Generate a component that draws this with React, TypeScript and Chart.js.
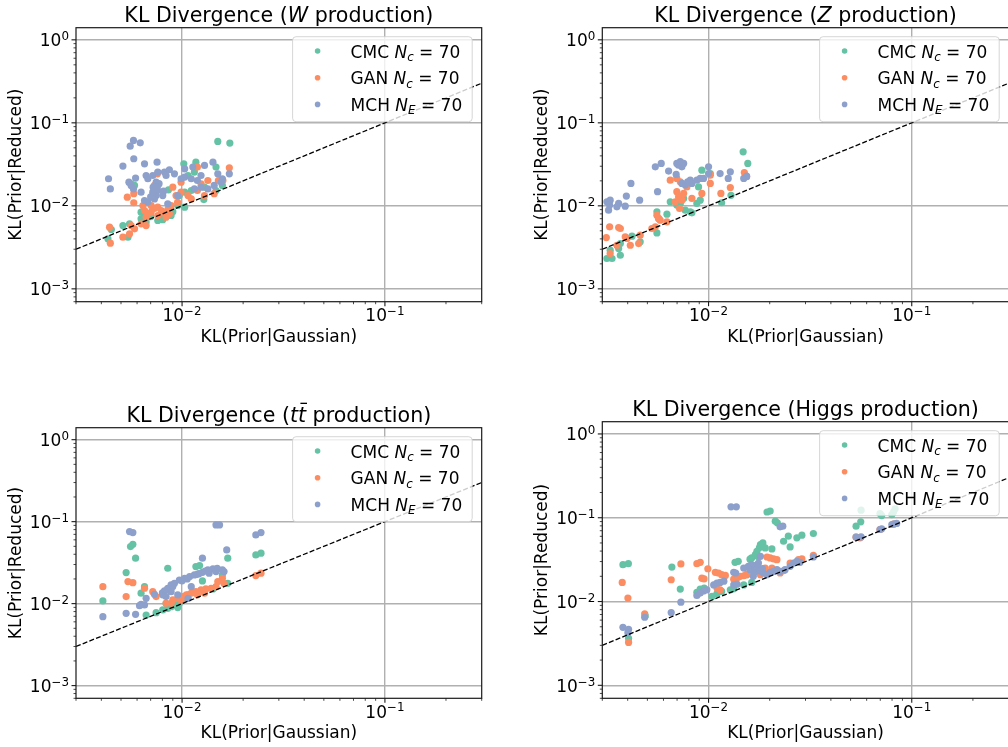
import React, { useEffect, useRef } from "react";
import { Chart, registerables } from "chart.js";

Chart.register(...registerables);

const FONT = "'DejaVu Sans', 'Noto Sans', sans-serif";

// ---- axes ----
const xRange = [0.003, 0.3];
const yRange = [0.0007, 1.4];
const diagonal = [0.003, 0.3];
const xMajorTicks = [0.01, 0.1];
const xTickExponents = ["\u22122", "\u22121"];
const yMajorTicks = [0.001, 0.01, 0.1, 1];
const yTickExponents = ["\u22123", "\u22122", "\u22121", "0"];
const xAxisLabel = "KL(Prior|Gaussian)";
const yAxisLabel = "KL(Prior|Reduced)";
const seriesColors = ["#66c2a5", "#fc8d62", "#8da0cb"];

// ---- W production ----
const wCmc: number[][] = [
  [0.015, 0.0597], [0.0172, 0.057], [0.0102, 0.0321], [0.0117, 0.0336], [0.0147, 0.0293], [0.0107, 0.0232],
  [0.00857, 0.0156], [0.0115, 0.0255], [0.0129, 0.0168], [0.0128, 0.0119], [0.0147, 0.0153], [0.0158, 0.0176],
  [0.00561, 0.0184], [0.00583, 0.0176], [0.00628, 0.00839], [0.00653, 0.00765], [0.00774, 0.00697], [0.00819, 0.00765],
  [0.00952, 0.0101], [0.0103, 0.00964], [0.00551, 0.00607], [0.00511, 0.00579], [0.00541, 0.00419], [0.00431, 0.004],
  [0.00448, 0.00519], [0.00628, 0.00697], [0.00691, 0.00801], [0.00759, 0.00666], [0.0085, 0.00839], [0.0111, 0.0153],
  [0.0097, 0.0133], [0.0103, 0.0146], [0.00803, 0.0068], [0.00883, 0.00765], [0.00665, 0.0064],
  [0.007, 0.0074], [0.008, 0.0072], [0.009, 0.0085],
];
const wGan: number[][] = [
  [0.00756, 0.0243], [0.0119, 0.0293], [0.0171, 0.0287], [0.0151, 0.0202], [0.0159, 0.0202], [0.0134, 0.0202],
  [0.0124, 0.0184], [0.00989, 0.0193], [0.00731, 0.0176], [0.009, 0.0168], [0.00934, 0.0133], [0.00989, 0.0146],
  [0.0107, 0.0133], [0.0111, 0.0121], [0.0119, 0.0153], [0.0129, 0.0133], [0.0144, 0.014], [0.00537, 0.0127],
  [0.00578, 0.014], [0.00578, 0.0109], [0.00641, 0.0101], [0.00653, 0.00878], [0.00678, 0.00801], [0.00704, 0.00839],
  [0.00759, 0.00765], [0.00789, 0.00878], [0.00834, 0.0073], [0.00866, 0.00801], [0.00883, 0.0101], [0.00759, 0.00964],
  [0.00665, 0.0073], [0.00628, 0.00607], [0.00665, 0.00579], [0.00583, 0.00528], [0.00551, 0.0046], [0.00511, 0.00419],
  [0.00439, 0.00553], [0.00443, 0.00355], [0.00561, 0.00579], [0.00704, 0.0101],
  [0.008, 0.0083], [0.0073, 0.0093], [0.0095, 0.011], [0.0085, 0.009],
];
const wMch: number[][] = [
  [0.00576, 0.0614], [0.00555, 0.0524], [0.00622, 0.0575], [0.00578, 0.0369], [0.00511, 0.0301], [0.00653, 0.0321],
  [0.00753, 0.0336], [0.00434, 0.0212], [0.00443, 0.016], [0.00547, 0.0193], [0.0059, 0.0216], [0.00665, 0.0232],
  [0.00678, 0.0212], [0.00717, 0.0232], [0.00759, 0.0255], [0.00819, 0.0255], [0.00866, 0.0272], [0.00834, 0.0232],
  [0.00917, 0.0243], [0.00989, 0.0212], [0.0103, 0.0222], [0.0111, 0.0212], [0.0119, 0.0202], [0.0124, 0.0232],
  [0.0129, 0.0307], [0.0142, 0.0336], [0.015, 0.0243], [0.0158, 0.0212], [0.0171, 0.0243], [0.00745, 0.0193],
  [0.00759, 0.0176], [0.00759, 0.0153], [0.00745, 0.0133], [0.00628, 0.0146], [0.00653, 0.0116], [0.00678, 0.0111],
  [0.00717, 0.0146], [0.00731, 0.0121], [0.00803, 0.0133], [0.0085, 0.0106], [0.00952, 0.0133], [0.0103, 0.0279],
  [0.0113, 0.0293], [0.0115, 0.016], [0.0124, 0.0168], [0.0134, 0.016], [0.0144, 0.0176], [0.0156, 0.0193],
  [0.00561, 0.0176], [0.00576, 0.016], [0.0072, 0.0168], [0.0077, 0.0185], [0.0081, 0.015], [0.007, 0.0128],
];

// ---- Z production ----
const zCmc: number[][] = [
  [0.0148, 0.0448], [0.0156, 0.0324], [0.00927, 0.0269], [0.0102, 0.0245], [0.00893, 0.0169], [0.00648, 0.0112],
  [0.00698, 0.0102], [0.00768, 0.00887], [0.00813, 0.00847], [0.00828, 0.00824], [0.00876, 0.0107], [0.0091, 0.0117],
  [0.0116, 0.0109], [0.0129, 0.0134], [0.00557, 0.00847], [0.00568, 0.00703], [0.00624, 0.00793], [0.00557, 0.00472],
  [0.00461, 0.00368], [0.0042, 0.00431], [0.00368, 0.00351], [0.00361, 0.00306], [0.00328, 0.00292], [0.00316, 0.00232],
  [0.00335, 0.00232], [0.00368, 0.00254], [0.00754, 0.0123], [0.00726, 0.0107],
];
const zGan: number[][] = [
  [0.00648, 0.0204], [0.00698, 0.0214], [0.00726, 0.0195], [0.00782, 0.0169], [0.00754, 0.0141], [0.00712, 0.0128],
  [0.00739, 0.0117], [0.0072, 0.00929], [0.00698, 0.0148], [0.00686, 0.0112], [0.00557, 0.00772], [0.00578, 0.00672],
  [0.00568, 0.00703], [0.00624, 0.00641], [0.00547, 0.00558], [0.00526, 0.00533], [0.00326, 0.00558], [0.00361, 0.00548],
  [0.00368, 0.00533], [0.00314, 0.00415], [0.00389, 0.00423], [0.00397, 0.00404], [0.00412, 0.00335], [0.00354, 0.00335],
  [0.00328, 0.00266], [0.00461, 0.00443], [0.0102, 0.0234], [0.0102, 0.0186], [0.00927, 0.0141], [0.0115, 0.0141],
  [0.0128, 0.0166], [0.015, 0.0252], [0.0154, 0.0224], [0.00828, 0.0123], [0.00453, 0.00351],
];
const zMch: number[][] = [
  [0.00698, 0.0324], [0.00726, 0.034], [0.00754, 0.0324], [0.00712, 0.0309], [0.00739, 0.0295], [0.00547, 0.0295],
  [0.00585, 0.0324], [0.00636, 0.0262], [0.00693, 0.0239], [0.00561, 0.0148], [0.00415, 0.0186], [0.00394, 0.0131],
  [0.00458, 0.0117], [0.00326, 0.0102], [0.00316, 0.0112], [0.00328, 0.0117], [0.00361, 0.0107], [0.00389, 0.00991],
  [0.00322, 0.00887], [0.00354, 0.00973], [0.00789, 0.0195], [0.00828, 0.0186], [0.00876, 0.0204], [0.00768, 0.0178],
  [0.00813, 0.0204], [0.0091, 0.0214], [0.01, 0.0295], [0.01, 0.0245], [0.0114, 0.0245], [0.0128, 0.0257],
  [0.0149, 0.0214], [0.0154, 0.0228], [0.0125, 0.0214], [0.00739, 0.0186], [0.00945, 0.0214],
];

// ---- ttbar production ----
const ttCmc: number[][] = [
  [0.0053, 0.0239], [0.00557, 0.0497], [0.00572, 0.053], [0.0059, 0.0358], [0.00407, 0.0108], [0.00628, 0.0134],
  [0.00665, 0.00727], [0.00745, 0.00776], [0.00803, 0.00837], [0.0085, 0.00877], [0.00883, 0.00919], [0.00952, 0.00894],
  [0.0097, 0.0101], [0.00834, 0.0101], [0.0117, 0.0283], [0.0122, 0.0291], [0.0085, 0.027], [0.0126, 0.0189],
  [0.0142, 0.0151], [0.0158, 0.0224], [0.0168, 0.0177], [0.0168, 0.0358], [0.0231, 0.0393], [0.0245, 0.0412],
  [0.0107, 0.0128], [0.0103, 0.0116], [0.00917, 0.00963], [0.00653, 0.0161],
];
const ttGan: number[][] = [
  [0.00407, 0.0161], [0.0053, 0.0122], [0.00541, 0.0186], [0.00572, 0.018], [0.00653, 0.0154], [0.00717, 0.014],
  [0.00745, 0.0122], [0.00883, 0.0101], [0.009, 0.0111], [0.00952, 0.0116], [0.0101, 0.0122], [0.0105, 0.0128],
  [0.0111, 0.0134], [0.0117, 0.014], [0.0124, 0.0147], [0.0131, 0.0151], [0.0139, 0.0154], [0.0147, 0.0161],
  [0.015, 0.0186], [0.0158, 0.0204], [0.0161, 0.0177], [0.0231, 0.022], [0.0245, 0.0235], [0.00989, 0.0111],
  [0.0107, 0.0116], [0.0119, 0.0128], [0.0129, 0.0134], [0.00834, 0.0101],
];
const ttMch: number[][] = [
  [0.00551, 0.0757], [0.00572, 0.0736], [0.0147, 0.0913], [0.0153, 0.0913], [0.0231, 0.0689], [0.0245, 0.0736],
  [0.0166, 0.0452], [0.0126, 0.0358], [0.0053, 0.00762], [0.0059, 0.00741], [0.00407, 0.00694], [0.00653, 0.00963],
  [0.00628, 0.00982], [0.00617, 0.00945], [0.00665, 0.0116], [0.00731, 0.013], [0.00819, 0.0143], [0.0085, 0.0154],
  [0.00883, 0.0169], [0.00917, 0.0177], [0.0097, 0.0194], [0.0103, 0.0204], [0.0109, 0.0214], [0.0115, 0.0224],
  [0.0119, 0.0228], [0.0126, 0.0241], [0.0134, 0.0258], [0.0142, 0.0265], [0.0149, 0.027], [0.0158, 0.0258],
  [0.0161, 0.0246], [0.0111, 0.0161], [0.00952, 0.0128], [0.00803, 0.0128], [0.00834, 0.0122], [0.0107, 0.0116],
  [0.00883, 0.014], [0.0136, 0.0235], [0.0147, 0.0246], [0.0085, 0.0148], [0.009, 0.0162], [0.01, 0.019],
  [0.0106, 0.02], [0.0121, 0.0232], [0.013, 0.025], [0.008, 0.0135],
];

// ---- Higgs production ----
const hCmc: number[][] = [
  [0.00379, 0.0275], [0.00403, 0.0283], [0.0066, 0.0258], [0.00726, 0.0141], [0.00876, 0.0129], [0.0091, 0.0141],
  [0.00952, 0.0145], [0.0104, 0.0115], [0.011, 0.0124], [0.0116, 0.0132], [0.0128, 0.0138], [0.0133, 0.0142],
  [0.0135, 0.0294], [0.014, 0.0302], [0.0149, 0.0158], [0.0163, 0.0169], [0.0163, 0.0331], [0.017, 0.0363],
  [0.0173, 0.0398], [0.018, 0.0478], [0.0185, 0.05], [0.019, 0.0436], [0.0205, 0.0424], [0.0234, 0.0524],
  [0.0247, 0.0602], [0.0252, 0.0448], [0.0272, 0.0575], [0.0288, 0.0619], [0.0201, 0.12], [0.0194, 0.117],
  [0.0213, 0.091], [0.0218, 0.0869], [0.0328, 0.0648], [0.0532, 0.0793], [0.0561, 0.0893], [0.0563, 0.123],
  [0.0698, 0.112], [0.0711, 0.106], [0.0798, 0.109], [0.0813, 0.117], [0.0828, 0.128], [0.00404, 0.00363],
  [0.00488, 0.00673], [0.0166, 0.0229], [0.0154, 0.0209], [0.0175, 0.0345], [0.0178, 0.044], [0.016, 0.032],
];
const hGan: number[][] = [
  [0.00376, 0.0169], [0.00401, 0.011], [0.00404, 0.00325], [0.00485, 0.00711], [0.00655, 0.0182], [0.00731, 0.0281],
  [0.00876, 0.0283], [0.0091, 0.0294], [0.00927, 0.019], [0.0095, 0.0186], [0.00992, 0.0246], [0.0108, 0.0223],
  [0.0112, 0.0219], [0.0116, 0.0209], [0.0121, 0.0205], [0.011, 0.0145], [0.0114, 0.0138], [0.0133, 0.0185],
  [0.0139, 0.0194], [0.0143, 0.02], [0.0149, 0.0203], [0.0154, 0.0209], [0.016, 0.0229], [0.0166, 0.0233],
  [0.0194, 0.034], [0.0201, 0.0331], [0.0209, 0.0322], [0.0217, 0.0316], [0.018, 0.0209], [0.019, 0.0251],
  [0.0205, 0.0251], [0.0225, 0.0219], [0.0234, 0.0233], [0.0252, 0.0288], [0.0277, 0.0316], [0.0288, 0.0322],
  [0.0328, 0.0356], [0.0532, 0.059], [0.0556, 0.0575], [0.0698, 0.0724], [0.0813, 0.0838],
];
const hMch: number[][] = [
  [0.00379, 0.00492], [0.00404, 0.00466], [0.00401, 0.00425], [0.00485, 0.00649], [0.00655, 0.00738], [0.00731, 0.00982],
  [0.00876, 0.0118], [0.0091, 0.0126], [0.00945, 0.0134], [0.00981, 0.0138], [0.0106, 0.0158], [0.011, 0.0166],
  [0.0114, 0.0169], [0.0119, 0.0175], [0.0133, 0.0223], [0.0136, 0.0219], [0.0133, 0.0158], [0.0138, 0.0161],
  [0.0129, 0.135], [0.0137, 0.135], [0.0149, 0.0251], [0.0157, 0.0263], [0.0163, 0.0275], [0.017, 0.0268],
  [0.0176, 0.0288], [0.018, 0.024], [0.0186, 0.0219], [0.0194, 0.0209], [0.0201, 0.0223], [0.0209, 0.0229],
  [0.0217, 0.024], [0.0225, 0.0229], [0.0238, 0.024], [0.0252, 0.0263], [0.0262, 0.0288], [0.0272, 0.0302],
  [0.0282, 0.0294], [0.0225, 0.0778], [0.0232, 0.0793], [0.018, 0.0346], [0.017, 0.024], [0.0166, 0.02],
  [0.016, 0.0263], [0.0328, 0.034], [0.0532, 0.0585], [0.0563, 0.059], [0.0698, 0.0724], [0.0711, 0.0738],
  [0.0798, 0.083], [0.082, 0.0846], [0.0843, 0.0855], [0.0172, 0.0255], [0.0178, 0.0232], [0.0168, 0.0222],
  [0.0184, 0.0248], [0.016, 0.024],
];

type Seg = { t: string; it?: boolean; sub?: boolean; sup?: boolean; bar?: boolean };

const seriesLabels: Seg[][] = [
  [{ t: "CMC " }, { t: "N", it: true }, { t: "c", it: true, sub: true }, { t: " = 70" }],
  [{ t: "GAN " }, { t: "N", it: true }, { t: "c", it: true, sub: true }, { t: " = 70" }],
  [{ t: "MCH " }, { t: "N", it: true }, { t: "E", it: true, sub: true }, { t: " = 70" }],
];

const CW = 1020;
const CH = 747;

type Panel = { title: Seg[]; box: { l: number; t: number; r: number; b: number }; series: number[][][] };

const panels: Panel[] = [
  {
    title: [{ t: "KL Divergence (" }, { t: "W", it: true }, { t: " production)" }],
    box: { l: 76, t: 27.7, r: 481.7, b: 301.7 },
    series: [wCmc, wGan, wMch],
  },
  {
    title: [{ t: "KL Divergence (" }, { t: "Z", it: true }, { t: " production)" }],
    box: { l: 602.3, t: 27.7, r: 1008.7, b: 301.7 },
    series: [zCmc, zGan, zMch],
  },
  {
    title: [{ t: "KL Divergence (" }, { t: "t", it: true }, { t: "t", it: true, bar: true }, { t: " production)" }],
    box: { l: 76, t: 427.7, r: 481.7, b: 698.3 },
    series: [ttCmc, ttGan, ttMch],
  },
  {
    title: [{ t: "KL Divergence (Higgs production)" }],
    box: { l: 602.3, t: 421.7, r: 1008.7, b: 698.3 },
    series: [hCmc, hGan, hMch],
  },
];

function segFont(s: Seg, size: number) {
  const sz = s.sub || s.sup ? size * 0.7 : size;
  return `${s.it ? "italic " : ""}${sz}px ${FONT}`;
}

function drawRich(ctx: CanvasRenderingContext2D, segs: Seg[], x: number, y: number, size: number, align: string) {
  const widths = segs.map((s) => {
    ctx.font = segFont(s, size);
    return ctx.measureText(s.t).width;
  });
  const total = widths.reduce((a, b) => a + b, 0);
  let cx = align === "center" ? x - total / 2 : align === "right" ? x - total : x;
  ctx.textAlign = "left";
  ctx.textBaseline = "alphabetic";
  segs.forEach((s, i) => {
    ctx.font = segFont(s, size);
    let yy = y;
    if (s.sub) yy = y + size * 0.2;
    if (s.sup) yy = y - size * 0.36;
    ctx.fillText(s.t, cx, yy);
    if (s.bar) {
      ctx.lineWidth = size * 0.065;
      ctx.strokeStyle = "#000";
      ctx.beginPath();
      ctx.moveTo(cx + widths[i] * 0.3, y - size * 0.92);
      ctx.lineTo(cx + widths[i] * 1.12, y - size * 0.92);
      ctx.stroke();
    }
    cx += widths[i];
  });
}

function makeDecor(p: Panel) {
  return {
    id: "decor",
    afterDatasetsDraw(chart: any) {
      const ctx: CanvasRenderingContext2D = chart.ctx;
      const { left, right, top, bottom } = chart.chartArea;
      const xs = chart.scales.x;
      const ys = chart.scales.y;
      ctx.save();

      // legend
      const lw = 179.6;
      const lh = 85;
      const lr = right - 9.5;
      const ll = lr - lw;
      const lt = top + 9;
      ctx.beginPath();
      if ((ctx as any).roundRect) (ctx as any).roundRect(ll, lt, lw, lh, 3.5);
      else ctx.rect(ll, lt, lw, lh);
      ctx.fillStyle = "rgba(255,255,255,0.8)";
      ctx.fill();
      ctx.strokeStyle = "rgba(204,204,204,0.8)";
      ctx.lineWidth = 1;
      ctx.stroke();
      seriesLabels.forEach((segs, i) => {
        const cy = lt + 14.3 + i * 26.7;
        ctx.beginPath();
        ctx.arc(ll + 25, cy, 2.8, 0, Math.PI * 2);
        ctx.fillStyle = seriesColors[i];
        ctx.fill();
        ctx.fillStyle = "#000";
        drawRich(ctx, segs, ll + 58, cy + 6.6, 17, "left");
      });

      // spines
      ctx.strokeStyle = "#1a1a1a";
      ctx.lineWidth = 1.2;
      ctx.strokeRect(left, top, right - left, bottom - top);

      // ticks
      for (let e = -4; e <= 1; e++) {
        for (let k = 1; k <= 9; k++) {
          const v = k * Math.pow(10, e);
          const major = k === 1;
          const len = major ? 4.5 : 2.5;
          ctx.lineWidth = major ? 1.1 : 0.8;
          if (v >= xRange[0] * 0.999 && v <= xRange[1] * 1.001) {
            const px = xs.getPixelForValue(v);
            ctx.beginPath();
            ctx.moveTo(px, bottom);
            ctx.lineTo(px, bottom + len);
            ctx.stroke();
          }
          if (v >= yRange[0] * 0.999 && v <= yRange[1] * 1.001) {
            const py = ys.getPixelForValue(v);
            ctx.beginPath();
            ctx.moveTo(left, py);
            ctx.lineTo(left - len, py);
            ctx.stroke();
          }
        }
      }

      ctx.fillStyle = "#000";
      xMajorTicks.forEach((v, i) => {
        const px = xs.getPixelForValue(v);
        drawRich(ctx, [{ t: "10" }, { t: xTickExponents[i], sup: true }], px, bottom + 19.3, 17, "center");
      });
      yMajorTicks.forEach((v, i) => {
        const py = ys.getPixelForValue(v);
        drawRich(ctx, [{ t: "10" }, { t: yTickExponents[i], sup: true }], left - 7, py + 6.5, 17, "right");
      });

      // axis labels
      ctx.font = `17px ${FONT}`;
      ctx.textAlign = "center";
      ctx.textBaseline = "alphabetic";
      ctx.fillText(xAxisLabel, (left + right) / 2, bottom + 40);
      ctx.save();
      ctx.translate(left - 55, (top + bottom) / 2);
      ctx.rotate(-Math.PI / 2);
      ctx.fillText(yAxisLabel, 0, 0);
      ctx.restore();

      // title
      drawRich(ctx, p.title, (left + right) / 2, top - 5.4, 20.6, "center");

      ctx.restore();
    },
  };
}

function buildConfig(p: Panel): any {
  const order = [3, 2, 1];
  const datasets: any[] = p.series.map((pts, i) => ({
    label: seriesLabels[i].map((s) => s.t).join(""),
    data: pts.map(([x, y]) => ({ x, y })),
    backgroundColor: seriesColors[i],
    borderColor: seriesColors[i],
    pointBackgroundColor: seriesColors[i],
    pointBorderWidth: 0,
    borderWidth: 0,
    pointRadius: 3.6,
    order: order[i],
  }));
  datasets.push({
    label: "diagonal",
    data: diagonal.map((v) => ({ x: v, y: v })),
    showLine: true,
    borderColor: "#000",
    borderWidth: 1.3,
    borderDash: [5, 2.2],
    pointRadius: 0,
    order: 0,
  });
  const gridOpts = { color: "#b0b0b0", lineWidth: 1.4, drawTicks: false };
  return {
    type: "scatter",
    data: { datasets },
    options: {
      animation: false,
      responsive: false,
      devicePixelRatio: 1,
      events: [],
      layout: {
        autoPadding: false,
        padding: { left: p.box.l, top: p.box.t, right: CW - p.box.r, bottom: CH - p.box.b },
      },
      plugins: { legend: { display: false }, tooltip: { enabled: false }, title: { display: false } },
      scales: {
        x: {
          type: "logarithmic",
          position: "bottom",
          min: xRange[0],
          max: xRange[1],
          bounds: "data",
          ticks: { display: false },
          grid: gridOpts,
          border: { display: false },
          afterBuildTicks: (s: any) => {
            s.ticks = xMajorTicks.map((v) => ({ value: v }));
          },
          afterFit: (s: any) => {
            s.height = 0;
          },
        },
        y: {
          type: "logarithmic",
          position: "left",
          min: yRange[0],
          max: yRange[1],
          bounds: "data",
          ticks: { display: false },
          grid: gridOpts,
          border: { display: false },
          afterBuildTicks: (s: any) => {
            s.ticks = yMajorTicks.map((v) => ({ value: v }));
          },
          afterFit: (s: any) => {
            s.width = 0;
          },
        },
      },
    },
    plugins: [makeDecor(p)],
  };
}

export default function App() {
  const refs = useRef<(HTMLCanvasElement | null)[]>([]);
  useEffect(() => {
    const charts = panels.map((p, i) => new Chart(refs.current[i] as HTMLCanvasElement, buildConfig(p)));
    return () => charts.forEach((c) => c.destroy());
  }, []);
  return (
    <div
      style={{
        position: "absolute",
        left: 0,
        top: 0,
        width: 1008,
        height: 747,
        overflow: "hidden",
        background: "#fff",
      }}
    >
      {panels.map((p, i) => (
        <canvas
          key={i}
          ref={(el) => {
            refs.current[i] = el;
          }}
          width={CW}
          height={CH}
          style={{ position: "absolute", left: 0, top: 0, width: CW, height: CH }}
        />
      ))}
    </div>
  );
}
